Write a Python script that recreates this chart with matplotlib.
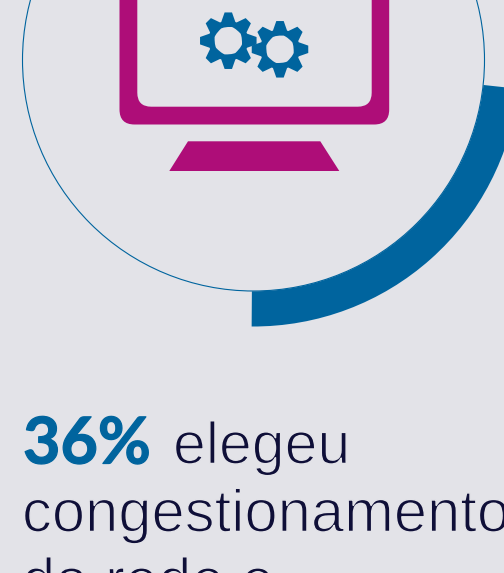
import numpy as np
import matplotlib
matplotlib.use("Agg")
import matplotlib.pyplot as plt
import matplotlib.patheffects as pe
from matplotlib.patches import Circle, Wedge, FancyBboxPatch, Polygon, PathPatch
from matplotlib.path import Path

BG = "#e3e3e8"
BLUE = "#00649e"
MAGENTA = "#ae0d78"
DARK = "#0f0f38"

# ring arc, degrees from the right going down the screen
arc_start = 6.2
arc_end = 90.4
headline_value = "36%"
text_lines = ["elegeu", "congestionamento", "da rede e"]


def gear(cx, cy):
    # 8 teeth, compound path so the hole stays open
    verts = []
    for i in range(8):
        a = np.radians(i * 45)
        for r, off in [(20, -0.36), (28.5, -0.13), (28.5, 0.13), (20, 0.36)]:
            verts.append((cx + r * np.cos(a + off), cy + r * np.sin(a + off)))
    codes = [Path.MOVETO] + [Path.LINETO] * (len(verts) - 1) + [Path.CLOSEPOLY]
    verts.append(verts[0])
    hole = Path.circle((cx, cy), 13.7).vertices[::-1]
    hole_codes = Path.circle((cx, cy), 13.7).codes
    path = Path(np.vstack([verts, hole]), np.concatenate([codes, hole_codes]))
    return PathPatch(path, facecolor=BLUE, edgecolor="none")


fig = plt.figure(figsize=(5.04, 5.73), dpi=100, facecolor=BG)
ax = fig.add_axes([0, 0, 1, 1])
ax.set_xlim(0, 504)
ax.set_ylim(573, 0)
ax.axis("off")

# y axis runs downward so wedge angles go clockwise on screen
ax.add_patch(Wedge((253.5, 60), 266.5, arc_start, arc_end, width=35.2, facecolor=BLUE, edgecolor="none"))
ax.add_patch(Circle((253.5, 60), 231, fill=False, edgecolor=BLUE, linewidth=0.8))

# monitor
ax.add_patch(FancyBboxPatch((119.5 + 15, -60), 269.7 - 30, 184.5 - 15, boxstyle="round,pad=15,rounding_size=15",
                            facecolor=MAGENTA, edgecolor="none"))
ax.add_patch(FancyBboxPatch((137.3 + 14, -60), 234.4 - 28, 166.7 - 14, boxstyle="round,pad=14,rounding_size=14",
                            facecolor=BG, edgecolor="none"))
ax.add_patch(Polygon([(188, 141.3), (320.3, 141.3), (339.3, 171), (169.3, 171)], facecolor=MAGENTA, edgecolor="none"))
ax.add_patch(gear(228.3, 40.7))
ax.add_patch(gear(280, 49.3))

# text, background stroke on top thins the regular weight down to a light look
thin = [pe.Stroke(linewidth=1.1, foreground=BG)]
fat = [pe.Stroke(linewidth=0.9, foreground=BLUE)]
ax.text(23, 463.5, headline_value, color=BLUE, fontsize=46.5, fontweight="bold", family="Lato", va="baseline", path_effects=fat)
ax.text(173, 463.5, text_lines[0], color=DARK, fontsize=42.5, family="Liberation Sans", va="baseline", path_effects=thin)
ax.text(22, 531.5, text_lines[1], color=DARK, fontsize=43, family="Liberation Sans", va="baseline", path_effects=thin)
ax.text(22, 600, text_lines[2], color=DARK, fontsize=43, family="Liberation Sans", va="baseline", path_effects=thin)

fig.savefig("out.png", dpi=100, facecolor=BG)
